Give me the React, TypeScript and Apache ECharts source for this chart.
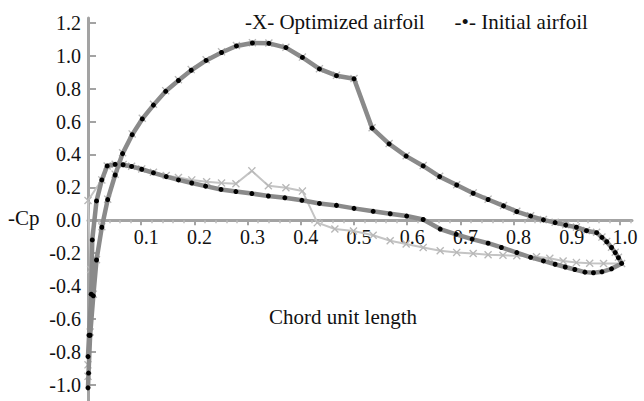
import React, { useEffect, useRef } from "react";
import * as echarts from "echarts";

const xTickValues = [0.1, 0.2, 0.3, 0.4, 0.5, 0.6, 0.7, 0.8, 0.9, 1.0];
const yTickValues = [-1.0, -0.8, -0.6, -0.4, -0.2, 0.0, 0.2, 0.4, 0.6, 0.8, 1.0, 1.2];

// Initial airfoil: suction branch (leading edge -> trailing edge)
const initialUpper: number[][] = [
  [0.0, -1.02], [0.001, -0.93], [0.004, -0.7], [0.01, -0.46], [0.016, -0.242], [0.026, -0.043],
  [0.037, 0.125], [0.051, 0.275], [0.065, 0.405], [0.083, 0.52], [0.102, 0.616], [0.123, 0.7],
  [0.146, 0.784], [0.17, 0.85], [0.194, 0.912], [0.222, 0.972], [0.251, 1.02], [0.279, 1.06],
  [0.309, 1.078], [0.34, 1.076], [0.372, 1.05], [0.403, 0.99], [0.435, 0.92], [0.467, 0.879],
  [0.5, 0.86], [0.534, 0.56], [0.566, 0.464], [0.598, 0.39], [0.63, 0.33], [0.661, 0.265],
  [0.693, 0.214], [0.724, 0.164], [0.752, 0.126], [0.781, 0.087], [0.806, 0.052], [0.832, 0.025],
  [0.856, 0.002], [0.878, -0.015], [0.898, -0.03], [0.918, -0.043], [0.937, -0.064], [0.956, -0.076],
  [0.966, -0.105], [0.975, -0.131], [0.984, -0.166], [0.991, -0.197], [0.997, -0.228], [1.003, -0.263],
];
// Initial airfoil: pressure branch (trailing edge -> leading edge)
const initialLower: number[][] = [
  [0.984, -0.296], [0.966, -0.314], [0.95, -0.32], [0.934, -0.316], [0.915, -0.3], [0.897, -0.285],
  [0.878, -0.268], [0.856, -0.248], [0.832, -0.226], [0.806, -0.197], [0.777, -0.166], [0.752, -0.14],
  [0.722, -0.115], [0.692, -0.086], [0.662, -0.054], [0.63, 0.004], [0.599, 0.025], [0.568, 0.039],
  [0.536, 0.054], [0.5, 0.072], [0.467, 0.09], [0.435, 0.102], [0.402, 0.121], [0.37, 0.136],
  [0.339, 0.147], [0.308, 0.162], [0.278, 0.174], [0.25, 0.187], [0.221, 0.207], [0.195, 0.226],
  [0.17, 0.245], [0.147, 0.265], [0.123, 0.288], [0.101, 0.31], [0.082, 0.327], [0.066, 0.337],
  [0.051, 0.34], [0.036, 0.33], [0.026, 0.245], [0.016, 0.117], [0.008, -0.12], [0.006, -0.45],
  [0.002, -0.7], [0.0, -0.83],
];
// Optimized airfoil: suction branch
const optimizedUpper: number[][] = [
  [0.0, -0.95], [0.004, -0.68], [0.01, -0.45], [0.016, -0.24], [0.026, -0.04],
  [0.037, 0.128], [0.051, 0.28], [0.065, 0.41], [0.083, 0.525], [0.102, 0.62], [0.123, 0.705],
  [0.146, 0.788], [0.17, 0.855], [0.194, 0.916], [0.222, 0.976], [0.251, 1.024], [0.279, 1.062],
  [0.309, 1.08], [0.34, 1.078], [0.372, 1.052], [0.403, 0.992], [0.435, 0.922], [0.467, 0.881],
  [0.5, 0.862], [0.534, 0.562], [0.566, 0.466], [0.598, 0.392], [0.63, 0.332], [0.661, 0.267],
  [0.693, 0.216], [0.724, 0.166], [0.752, 0.128], [0.781, 0.089], [0.806, 0.054], [0.832, 0.027],
  [0.856, 0.004], [0.878, -0.013], [0.898, -0.028], [0.918, -0.041], [0.937, -0.062], [0.956, -0.074],
  [0.966, -0.103], [0.975, -0.129], [0.984, -0.164], [0.991, -0.195], [0.997, -0.226], [1.003, -0.263],
];
// Optimized airfoil: pressure branch
const optimizedLower: number[][] = [
  [0.969, -0.263], [0.943, -0.262], [0.918, -0.258], [0.893, -0.248], [0.868, -0.232],
  [0.843, -0.222], [0.806, -0.216], [0.78, -0.213], [0.752, -0.21], [0.724, -0.203], [0.693, -0.196],
  [0.662, -0.186], [0.63, -0.166], [0.598, -0.145], [0.568, -0.125], [0.536, -0.092], [0.499, -0.066],
  [0.464, -0.054], [0.431, -0.015], [0.403, 0.177], [0.372, 0.197], [0.339, 0.21], [0.308, 0.3],
  [0.278, 0.222], [0.251, 0.226], [0.223, 0.234], [0.195, 0.245], [0.17, 0.26], [0.147, 0.272],
  [0.123, 0.292], [0.101, 0.312], [0.082, 0.328], [0.066, 0.338], [0.051, 0.34], [0.036, 0.33],
  [0.026, 0.245], [0.0, 0.12], [0.005, -0.3], [0.0, -0.88],
];

const legendLabels: Record<string, string> = {
  "Optimized airfoil": "-X- Optimized airfoil",
  "Initial airfoil": "-\u2022- Initial airfoil",
};

const X_SYMBOL =
  "path://M0,1.2 L1.2,0 L5,3.8 L8.8,0 L10,1.2 L6.2,5 L10,8.8 L8.8,10 L5,6.2 L1.2,10 L0,8.8 L3.8,5 Z";

const Y_MIN = -1.1;
const Y_MAX = 1.23;
const GRID_TOP = 18;
const GRID_BOTTOM = 0;
const HEIGHT = 401;

export default function App() {
  const ref = useRef<HTMLDivElement>(null);
  useEffect(() => {
    const chart = echarts.init(ref.current!, null, { renderer: "svg" });
    const font = "serif";
    const axisGray = "#a3a3a3";
    const plotH = HEIGHT - GRID_TOP - GRID_BOTTOM;
    const zeroFromBottom = ((0 - Y_MIN) / (Y_MAX - Y_MIN)) * plotH;
    chart.setOption({
      animation: false,
      backgroundColor: "#ffffff",
      textStyle: { fontFamily: font },
      grid: {
        left: 88,
        right: 12,
        top: GRID_TOP,
        bottom: GRID_BOTTOM,
        containLabel: false,
        outerBoundsMode: "none",
      },
      legend: {
        data: ["Optimized airfoil", "Initial airfoil"],
        left: 235,
        top: 6,
        icon: "none",
        itemWidth: 0,
        itemHeight: 0,
        itemGap: 25,
        selectedMode: false,
        formatter: (name: string) => legendLabels[name] || name,
        textStyle: { fontFamily: font, fontSize: 21, color: "#111" },
      },
      xAxis: {
        type: "value",
        min: 0,
        max: 1.0225,
        interval: 0.1,
        offset: -zeroFromBottom,
        axisLine: { show: true, onZero: false, lineStyle: { color: axisGray, width: 3 } },
        axisTick: {
          show: true,
          customValues: xTickValues,
          length: 5,
          lineStyle: { color: axisGray, width: 2 },
        },
        minorTick: { show: true, splitNumber: 5, length: 3, lineStyle: { color: "#bbbbbb", width: 1.5 } },
        axisLabel: {
          customValues: xTickValues,
          formatter: (v: number) => v.toFixed(1),
          fontFamily: font,
          fontSize: 20,
          color: "#111",
          margin: 7,
          padding: [0, 0, 0, 10],
        },
        splitLine: { show: false },
      },
      yAxis: {
        type: "value",
        min: Y_MIN,
        max: Y_MAX,
        axisLine: { show: true, lineStyle: { color: axisGray, width: 3 } },
        axisTick: {
          show: true,
          customValues: yTickValues,
          inside: true,
          length: 8,
          lineStyle: { color: axisGray, width: 2 },
        },
        axisLabel: {
          customValues: yTickValues,
          formatter: (v: number) => v.toFixed(1),
          fontFamily: font,
          fontSize: 20,
          color: "#111",
          margin: 7,
        },
        splitLine: { show: false },
      },
      graphic: [
        {
          type: "text",
          left: 8,
          top: 207,
          style: { text: "-Cp", fontFamily: font, fontSize: 21, fill: "#111" },
        },
        {
          type: "text",
          x: 343,
          y: 317,
          style: {
            text: "Chord unit length",
            fontFamily: font,
            fontSize: 21,
            fill: "#111",
            align: "center",
            verticalAlign: "middle",
          },
        },
      ],
      series: [
        {
          name: "Optimized airfoil",
          type: "line",
          data: [...optimizedUpper, ...optimizedLower],
          symbol: X_SYMBOL,
          symbolSize: 8,
          showAllSymbol: true,
          clip: false,
          lineStyle: { color: "#c4c4c4", width: 2 },
          itemStyle: { color: "#b8b8b8" },
          z: 2,
        },
        {
          name: "Initial airfoil",
          type: "line",
          data: [...initialUpper, ...initialLower],
          symbol: "circle",
          symbolSize: 5,
          showAllSymbol: true,
          clip: false,
          lineStyle: { color: "#8a8a8a", width: 4.5 },
          itemStyle: { color: "#000000" },
          z: 3,
        },
      ],
    });
    return () => chart.dispose();
  }, []);
  return (
    <div
      ref={ref}
      style={{ position: "fixed", left: 0, top: 0, width: 644, height: 401, background: "#fff" }}
    />
  );
}
